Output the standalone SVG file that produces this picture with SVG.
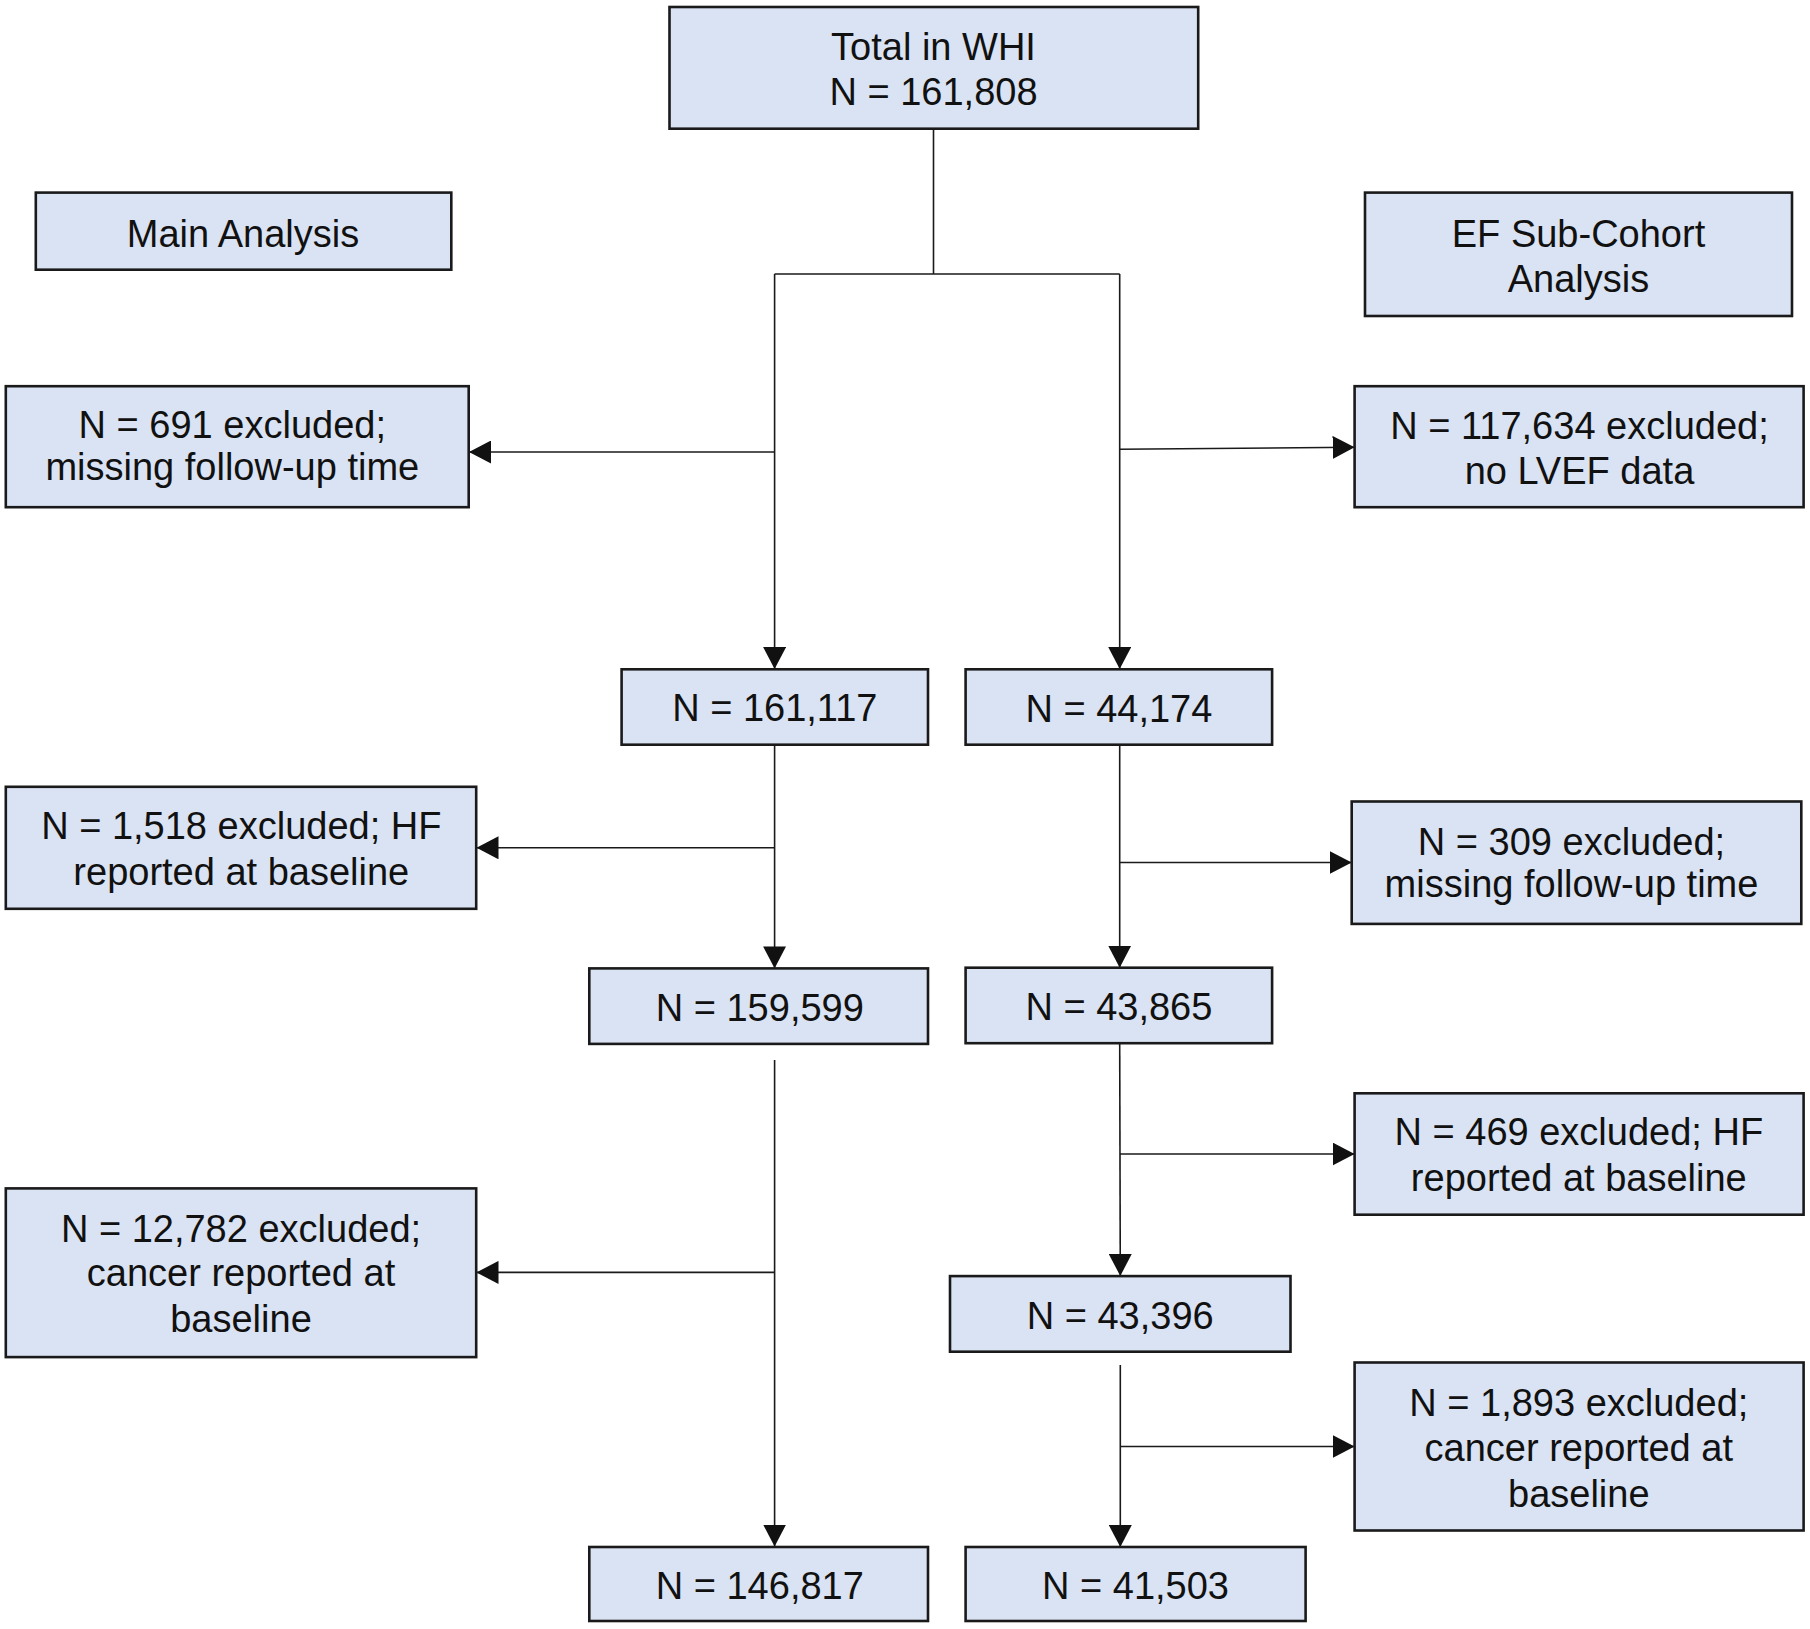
<svg xmlns="http://www.w3.org/2000/svg" width="1810" height="1629" viewBox="0 0 1810 1629">
<style>
.box{fill:#DAE3F3;stroke:#1a1a1a;stroke-width:2.6}
.t{font-family:"Liberation Sans",Arial,sans-serif;font-size:38px;fill:#111;text-anchor:middle}
.c{fill:none;stroke:#1a1a1a;stroke-width:1.6}
</style>
<defs>
<marker id="ah" viewBox="0 0 22 23" refX="22" refY="11.5" markerWidth="22" markerHeight="23" markerUnits="userSpaceOnUse" orient="auto">
<path d="M0,0 L22,11.5 L0,23 z" fill="#111"/>
</marker>
</defs>
<rect width="1810" height="1629" fill="#fff"/>
<g id="connectors">
<path class="c" d="M933.5,128.5 V274"/>
<path class="c" d="M774.6,274 H1119.7"/>
<path class="c" d="M774.6,274 V669" marker-end="url(#ah)"/>
<path class="c" d="M774.6,452 H469" marker-end="url(#ah)"/>
<path class="c" d="M1119.7,274 V669" marker-end="url(#ah)"/>
<path class="c" d="M1119.7,449.3 L1354.6,447.2" marker-end="url(#ah)"/>
<path class="c" d="M774.6,744.7 V968.4" marker-end="url(#ah)"/>
<path class="c" d="M774.6,847.8 H476.5" marker-end="url(#ah)"/>
<path class="c" d="M1119.7,744.7 V967.7" marker-end="url(#ah)"/>
<path class="c" d="M1119.7,862.5 H1351.7" marker-end="url(#ah)"/>
<path class="c" d="M774.6,1060 V1546.5" marker-end="url(#ah)"/>
<path class="c" d="M774.6,1272.4 H476.5" marker-end="url(#ah)"/>
<path class="c" d="M1119.7,1043.2 L1120.3,1276" marker-end="url(#ah)"/>
<path class="c" d="M1120,1154 H1354.6" marker-end="url(#ah)"/>
<path class="c" d="M1120.3,1365 V1547" marker-end="url(#ah)"/>
<path class="c" d="M1120.3,1446.5 H1354.6" marker-end="url(#ah)"/>
</g>
<g id="n-total"><rect class="box" x="669.5" y="7" width="528.7" height="121.7"/>
<text class="t" x="933.5" y="59.6">Total in WHI</text><text class="t" x="933.5" y="105.2">N = 161,808</text></g>
<g id="n-main"><rect class="box" x="35.8" y="192.6" width="415.5" height="77.1"/>
<text class="t" x="243" y="246.6">Main Analysis</text></g>
<g id="n-ef"><rect class="box" x="1365" y="192.6" width="427" height="123.4"/>
<text class="t" x="1578.5" y="246.6">EF Sub-Cohort</text><text class="t" x="1578.5" y="292">Analysis</text></g>
<g id="n-691"><rect class="box" x="5.8" y="386.2" width="462.9" height="121"/>
<text class="t" x="232.3" y="438.4">N = 691 excluded;</text><text class="t" x="232.3" y="479.5">missing follow-up time</text></g>
<g id="n-117634"><rect class="box" x="1354.6" y="386.2" width="449" height="121"/>
<text class="t" x="1579.5" y="439.1">N = 117,634 excluded;</text><text class="t" x="1579.5" y="484">no LVEF data</text></g>
<g id="n-161117"><rect class="box" x="621.6" y="669.3" width="306.4" height="75.4"/>
<text class="t" x="774.8" y="721.2">N = 161,117</text></g>
<g id="n-44174"><rect class="box" x="965.6" y="669.3" width="306.5" height="75.4"/>
<text class="t" x="1118.9" y="721.5">N = 44,174</text></g>
<g id="n-1518"><rect class="box" x="5.8" y="786.8" width="470.4" height="122"/>
<text class="t" x="241.3" y="839.4">N = 1,518 excluded; HF</text><text class="t" x="241.3" y="884.5">reported at baseline</text></g>
<g id="n-309"><rect class="box" x="1351.7" y="801.5" width="449.6" height="122.4"/>
<text class="t" x="1571.5" y="854.5">N = 309 excluded;</text><text class="t" x="1571.5" y="896.5">missing follow-up time</text></g>
<g id="n-159599"><rect class="box" x="589.3" y="968.4" width="338.7" height="75.5"/>
<text class="t" x="759.8" y="1020.7">N = 159,599</text></g>
<g id="n-43865"><rect class="box" x="965.6" y="967.7" width="306.5" height="75.5"/>
<text class="t" x="1118.9" y="1020.2">N = 43,865</text></g>
<g id="n-469"><rect class="box" x="1354.6" y="1093.3" width="449" height="121.4"/>
<text class="t" x="1578.8" y="1144.9">N = 469 excluded; HF</text><text class="t" x="1578.8" y="1190.5">reported at baseline</text></g>
<g id="n-12782"><rect class="box" x="5.8" y="1188.4" width="470.4" height="168.7"/>
<text class="t" x="241" y="1241.7">N = 12,782 excluded;</text><text class="t" x="241" y="1286.2">cancer reported at</text><text class="t" x="241" y="1332.2">baseline</text></g>
<g id="n-43396"><rect class="box" x="950" y="1276.1" width="340.5" height="75.6"/>
<text class="t" x="1120.2" y="1328.7">N = 43,396</text></g>
<g id="n-1893"><rect class="box" x="1354.6" y="1362.5" width="449" height="168"/>
<text class="t" x="1578.8" y="1415.5">N = 1,893 excluded;</text><text class="t" x="1578.8" y="1461">cancer reported at</text><text class="t" x="1578.8" y="1506.5">baseline</text></g>
<g id="n-146817"><rect class="box" x="589.3" y="1547" width="338.7" height="74"/>
<text class="t" x="759.8" y="1599.3">N = 146,817</text></g>
<g id="n-41503"><rect class="box" x="965.6" y="1547" width="340" height="74"/>
<text class="t" x="1135.5" y="1599.3">N = 41,503</text></g>
</svg>
